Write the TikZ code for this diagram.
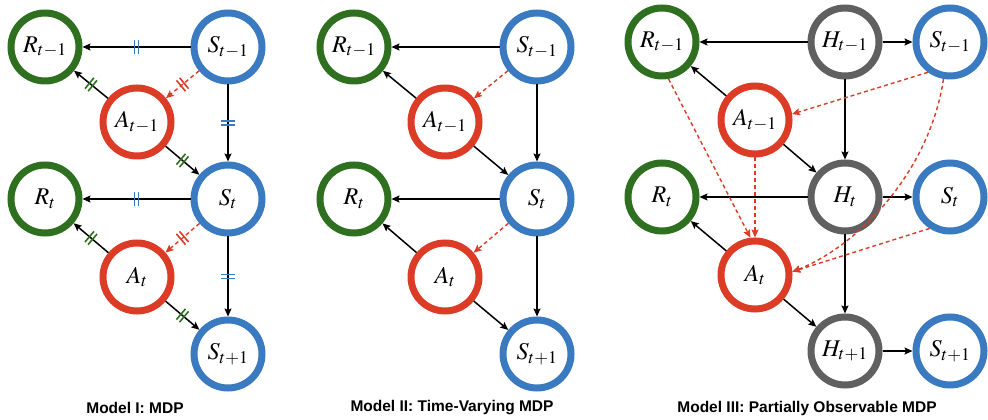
\documentclass[tikz,border=0pt]{standalone}
\usepackage{mathptmx}
\usepackage{fontspec}
\newfontfamily\capfont{Liberation Sans}
\usetikzlibrary{arrows.meta,decorations.markings}

\definecolor{rgreen}{RGB}{46,112,32}
\definecolor{sblue}{RGB}{58,122,192}
\definecolor{ared}{RGB}{220,60,38}
\definecolor{hgray}{RGB}{96,96,96}

\begin{document}
\begin{tikzpicture}[x=1pt,y=1pt,
  var/.style={circle,draw=#1,line width=7pt,minimum size=68pt,inner sep=0pt,
    font=\fontsize{24}{28}\selectfont},
  link/.style={draw=black,line width=1.5pt,-{Stealth[length=8pt,width=7pt,inset=1.5pt]}},
  policy/.style={draw=ared,line width=1.4pt,dash pattern=on 4pt off 3pt,
    -{Stealth[length=8pt,width=7pt,inset=1.5pt]}},
  barred/.style={postaction={decorate,decoration={markings,
    mark=at position 0.5 with {\draw[#1,solid,-,line width=1.6pt]
      (-2pt,-7pt)--(-2pt,7pt) (2pt,-7pt)--(2pt,7pt);}}}},
  caption/.style={font=\capfont\bfseries\fontsize{15.5}{18}\selectfont}
]
\useasboundingbox (0,0) rectangle (988,420);

% ---------- Model I ----------
\node[var=rgreen] (r1a) at (45,373) {$R_{t-1}$};
\node[var=sblue]  (s1a) at (228,373) {$S_{t-1}$};
\node[var=ared]   (a1a) at (137,298) {$A_{t-1}$};
\node[var=rgreen] (r1b) at (45,221) {$R_{t}$};
\node[var=sblue]  (s1b) at (228,221) {$S_{t}$};
\node[var=ared]   (a1b) at (137,143) {$A_{t}$};
\node[var=sblue]  (s1c) at (228,66) {$S_{t+1}$};

\draw[link,barred=sblue]  (s1a) -- (r1a);
\draw[link,barred=rgreen] (a1a) -- (r1a);
\draw[policy,barred=ared] (s1a) -- (a1a);
\draw[link,barred=sblue]  (s1a) -- (s1b);
\draw[link,barred=rgreen] (a1a) -- (s1b);
\draw[link,barred=sblue]  (s1b) -- (r1b);
\draw[link,barred=rgreen] (a1b) -- (r1b);
\draw[policy,barred=ared] (s1b) -- (a1b);
\draw[link,barred=sblue]  (s1b) -- (s1c);
\draw[link,barred=rgreen] (a1b) -- (s1c);

\node[caption] (c1) at (135,12) {Model I: MDP};

% ---------- Model II ----------
\node[var=rgreen] (r2a) at (354,373) {$R_{t-1}$};
\node[var=sblue]  (s2a) at (537,373) {$S_{t-1}$};
\node[var=ared]   (a2a) at (445,298) {$A_{t-1}$};
\node[var=rgreen] (r2b) at (354,221) {$R_{t}$};
\node[var=sblue]  (s2b) at (537,221) {$S_{t}$};
\node[var=ared]   (a2b) at (445,143) {$A_{t}$};
\node[var=sblue]  (s2c) at (537,66) {$S_{t+1}$};

\draw[link]   (s2a) -- (r2a);
\draw[link]   (a2a) -- (r2a);
\draw[policy] (s2a) -- (a2a);
\draw[link]   (s2a) -- (s2b);
\draw[link]   (a2a) -- (s2b);
\draw[link]   (s2b) -- (r2b);
\draw[link]   (a2b) -- (r2b);
\draw[policy] (s2b) -- (a2b);
\draw[link]   (s2b) -- (s2c);
\draw[link]   (a2b) -- (s2c);

\node[caption] (c2) at (452,12) {Model II: Time-Varying MDP};

% ---------- Model III ----------
\node[var=rgreen] (r3a) at (662,378) {$R_{t-1}$};
\node[var=hgray]  (h3a) at (845,378) {$H_{t-1}$};
\node[var=sblue]  (s3a) at (950,378) {$S_{t-1}$};
\node[var=ared]   (a3a) at (755,300) {$A_{t-1}$};
\node[var=rgreen] (r3b) at (662,223) {$R_{t}$};
\node[var=hgray]  (h3b) at (845,223) {$H_{t}$};
\node[var=sblue]  (s3b) at (950,223) {$S_{t}$};
\node[var=ared]   (a3b) at (755,145) {$A_{t}$};
\node[var=hgray]  (h3c) at (845,69) {$H_{t+1}$};
\node[var=sblue]  (s3c) at (950,69) {$S_{t+1}$};

\draw[link] (h3a) -- (r3a);
\draw[link] (h3a) -- (s3a);
\draw[link] (h3a) -- (h3b);
\draw[link] (a3a) -- (r3a);
\draw[link] (a3a) -- (h3b);
\draw[link] (h3b) -- (r3b);
\draw[link] (h3b) -- (s3b);
\draw[link] (h3b) -- (h3c);
\draw[link] (a3b) -- (r3b);
\draw[link] (a3b) -- (h3c);
\draw[link] (h3c) -- (s3c);

\draw[policy] (s3a.234) -- (a3a.9);
\draw[policy] (r3a.280) -- (a3b.97);
\draw[policy] (a3a) -- (a3b);
\draw[policy] (s3a.260) .. controls (930,250) and (860,175) .. (a3b.5);
\draw[policy] (s3b.237) -- (a3b.5);

\node[caption] (c3) at (807,12) {Model III: Partially Observable MDP};
\end{tikzpicture}
\end{document}
